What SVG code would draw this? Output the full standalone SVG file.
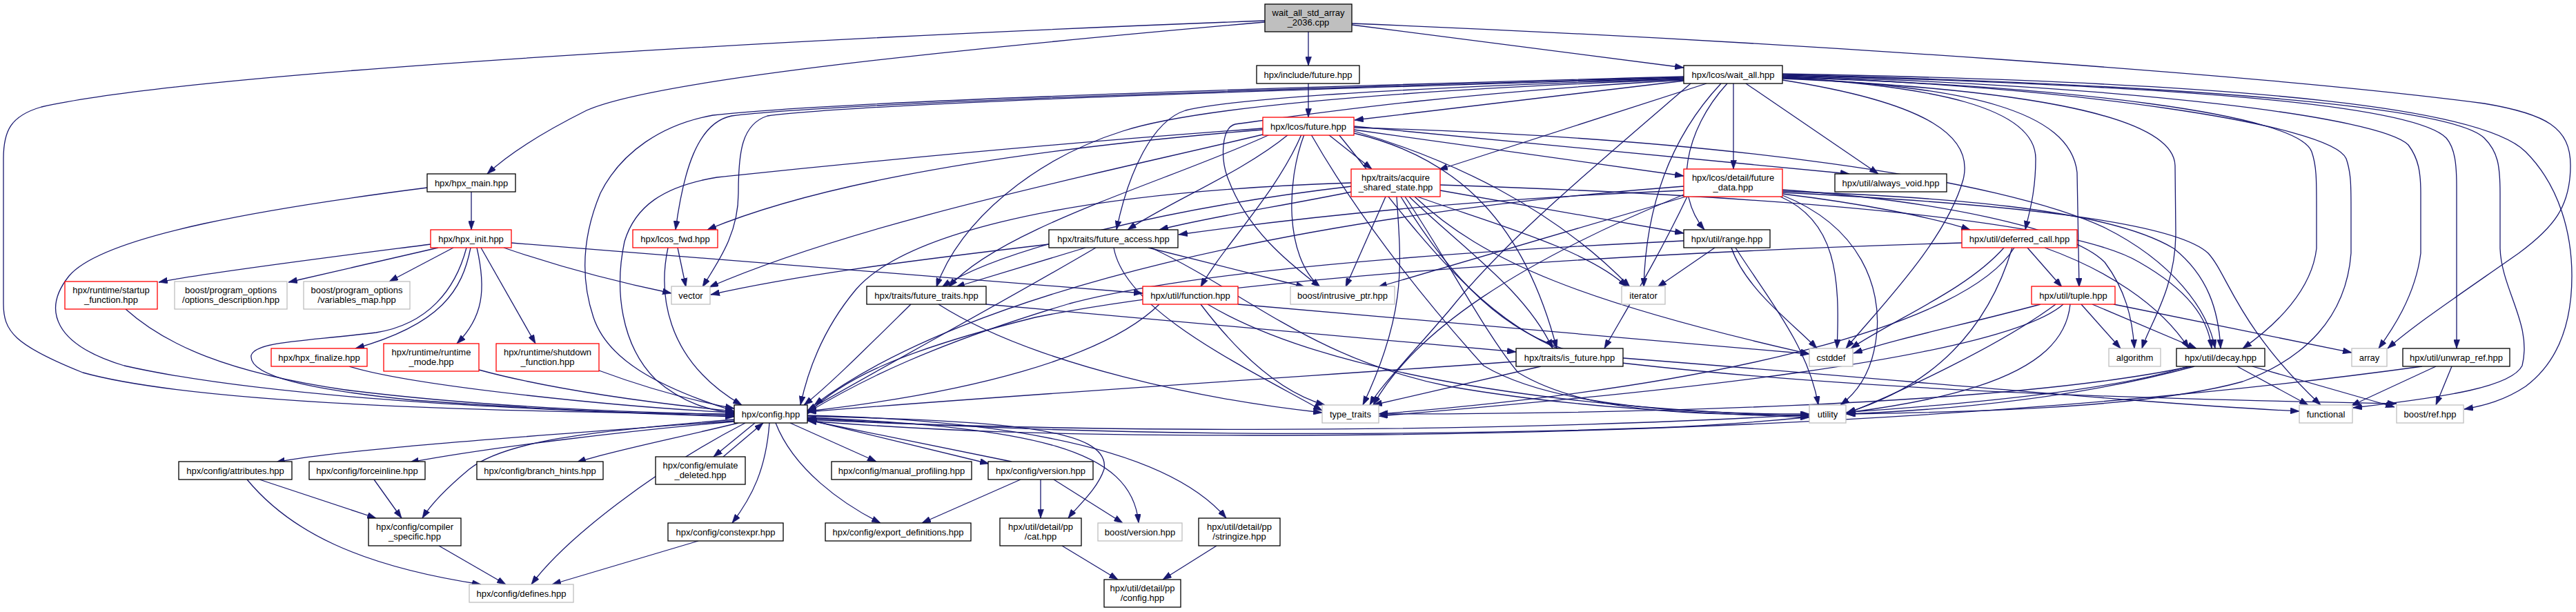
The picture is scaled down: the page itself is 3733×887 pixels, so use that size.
<svg xmlns="http://www.w3.org/2000/svg" width="3733" height="887" viewBox="0 0 3733 887">
<defs>
<style>
.e{fill:none;stroke:#191970;stroke-width:1.3;marker-end:url(#ah)}
.n rect{fill:#fff;stroke:#000;stroke-width:1.3}
.r rect{fill:#fff;stroke:#ff0000;stroke-width:1.3}
.g rect{fill:#fff;stroke:#bfbfbf;stroke-width:1.3}
.s rect{fill:#bfbfbf;stroke:#000;stroke-width:1.3}
text{font-family:"Liberation Sans",Arial,sans-serif;font-size:13px;fill:#000;text-anchor:middle}
</style>
<marker id="ah" viewBox="0 0 10 7" markerWidth="13" markerHeight="9" refX="10" refY="3.5" orient="auto" markerUnits="userSpaceOnUse"><path d="M0,0 L10,3.5 L0,7 z" fill="#191970" stroke="#191970" stroke-width="0.5"/></marker>
</defs>
<rect x="0" y="0" width="3733" height="887" fill="#fff"/>
<g id="connectors">
<path class="e" d="M1896,46 L1896,95"/>
<path class="e" d="M1959,36 L2440,98"/>
<path class="e" d="M1833,32 C1400,70 950,115 850,160 C780,195 735,225 706,252"/>
<path class="e" d="M1833,30 C1300,50 300,100 60,155 C15,168 5,190 5,230 L5,440 C5,480 20,500 120,540 C300,590 800,598 1064,600"/>
<path class="e" d="M1959,34 C2600,60 3300,110 3600,150 C3690,165 3725,185 3725,240 C3725,300 3700,330 3650,367 C3560,430 3500,470 3460,505"/>
<path class="e" d="M1896,121 L1896,170"/>
<path class="e" d="M2441,117 L1963,174"/>
<path class="e" d="M2473,121 L2085,246"/>
<path class="e" d="M2512,121 L2512,245"/>
<path class="e" d="M2530,121 L2722,252"/>
<path class="e" d="M2503,121 C2440,190 2425,280 2470,333"/>
<path class="e" d="M2494,121 C2420,200 2385,300 2382,416"/>
<path class="e" d="M2583,112 C2800,125 2950,155 2950,230 C2950,280 2940,310 2935,333"/>
<path class="e" d="M2583,113 C2850,125 3000,160 3010,250 L3013,416"/>
<path class="e" d="M2583,114 C2950,130 3150,170 3152,240 L3153,340 C3152,420 3115,470 3104,505"/>
<path class="e" d="M2583,112 C3000,125 3330,165 3350,220 C3357,240 3357,260 3357,300 L3357,360 C3350,420 3300,470 3250,505"/>
<path class="e" d="M2583,111 C3000,125 3380,180 3400,230 C3407,250 3407,270 3407,300 L3407,367 C3400,460 3340,520 3250,553 C3100,595 2800,598 2676,600"/>
<path class="e" d="M2583,110 C3100,125 3450,170 3490,210 C3505,230 3508,250 3508,280 L3508,367 C3500,430 3465,480 3447,505"/>
<path class="e" d="M2583,109 C3200,125 3500,155 3545,200 C3558,215 3560,240 3560,270 L3560,505"/>
<path class="e" d="M2583,108 C3250,125 3560,160 3600,200 C3620,220 3623,240 3623,280 L3623,360 C3625,420 3670,470 3655,530 C3640,560 3550,575 3410,591"/>
<path class="e" d="M2583,107 C3300,120 3600,160 3660,220 C3710,270 3727,340 3727,400 C3727,480 3700,530 3660,560 C3630,580 3600,588 3571,593"/>
<path class="e" d="M2440,112 C1800,130 1200,150 1060,168 C1010,178 990,250 979,333"/>
<path class="e" d="M2440,113 C1800,132 1250,150 1112,168 C1075,180 1070,220 1070,280 C1070,340 1040,380 1018,416"/>
<path class="e" d="M2440,111 C1800,128 1200,148 1033,167 C960,180 900,220 870,280 C845,340 840,400 860,460 C880,520 950,560 1064,596"/>
<path class="e" d="M2440,114 C2100,125 1800,140 1718,160 C1670,175 1635,250 1618,333"/>
<path class="e" d="M2440,115 C2100,128 1750,150 1627,190 C1500,230 1390,320 1357,416"/>
<path class="e" d="M2440,116 C2100,135 1900,165 1790,180 C1770,185 1768,230 1780,260 C1810,340 1880,390 1913,416"/>
<path class="e" d="M2583,116 C2800,150 2860,200 2845,260 C2820,350 2720,450 2675,505"/>
<path class="e" d="M2450,121 C2300,250 2180,350 2100,450 C2040,520 2000,560 1985,587"/>
<path class="e" d="M1925,195 L1988,245"/>
<path class="e" d="M1962,188 L2440,255"/>
<path class="e" d="M1962,183 L2680,252"/>
<path class="e" d="M1830,188 C1500,215 1200,260 1025,333"/>
<path class="e" d="M1830,195 C1600,250 1250,320 1028,416"/>
<path class="e" d="M1830,186 C1500,210 1200,240 1039,257 C960,270 920,300 905,350 C890,420 900,500 950,550 C990,585 1030,595 1064,599"/>
<path class="e" d="M1867,195 C1800,250 1700,290 1634,333"/>
<path class="e" d="M1840,195 C1700,260 1450,330 1375,416"/>
<path class="e" d="M1886,195 C1850,280 1770,360 1740,416"/>
<path class="e" d="M1890,195 C1865,260 1860,370 1913,416"/>
<path class="e" d="M1962,190 C2100,230 2250,300 2362,416"/>
<path class="e" d="M1962,193 C2120,230 2210,330 2256,505"/>
<path class="e" d="M1900,195 C1960,300 2050,420 2150,530 C2250,590 2450,600 2622,600"/>
<path class="e" d="M1962,185 C2500,200 2900,260 3050,330 C3150,380 3200,450 3210,505"/>
<path class="e" d="M1940,195 C2050,330 2150,480 2300,520 C2700,570 3200,580 3473,585"/>
<path class="e" d="M1959,278 C1850,300 1750,315 1680,333"/>
<path class="e" d="M1959,270 C1700,300 1450,360 1365,416"/>
<path class="e" d="M2008,285 L1950,416"/>
<path class="e" d="M2054,285 C2150,320 2300,360 2358,416"/>
<path class="e" d="M2087,276 L2440,338"/>
<path class="e" d="M2042,285 C2120,360 2210,420 2250,505"/>
<path class="e" d="M2050,285 C2150,380 2300,440 2622,513"/>
<path class="e" d="M2024,285 C2030,380 2040,450 1975,587"/>
<path class="e" d="M2036,285 C2100,380 2150,480 2200,540 C2300,600 2450,600 2622,602"/>
<path class="e" d="M1958,265 C1500,280 1300,350 1240,420 C1190,480 1170,540 1160,587"/>
<path class="e" d="M2087,268 C2600,285 3000,320 3100,380 C3170,420 3200,460 3205,505"/>
<path class="e" d="M2030,285 C2100,400 2180,490 2300,515 C2700,545 3100,585 3332,596"/>
<path class="e" d="M2440,276 C2100,290 1850,320 1708,340"/>
<path class="e" d="M2443,285 L1997,416"/>
<path class="e" d="M2445,285 C2400,380 2350,460 2325,505"/>
<path class="e" d="M2583,281 C2700,295 2800,315 2855,333"/>
<path class="e" d="M2580,285 C2660,320 2667,400 2662,505"/>
<path class="e" d="M2583,283 C2700,330 2725,420 2720,480 C2715,540 2690,570 2667,587"/>
<path class="e" d="M2583,277 C2800,285 3050,300 3150,360 C3200,400 3215,450 3218,505"/>
<path class="e" d="M2583,279 C2900,295 3150,320 3200,367 C3230,400 3240,470 3363,587"/>
<path class="e" d="M2583,275 C2800,290 3000,330 3050,380 C3080,420 3090,460 3093,505"/>
<path class="e" d="M2440,270 C1900,310 1400,420 1180,587"/>
<path class="e" d="M2440,282 C2200,380 2050,480 1990,587"/>
<path class="e" d="M683,277 L683,333"/>
<path class="e" d="M619,272 C400,300 150,340 100,400 C60,450 80,500 180,530 C400,580 800,595 1064,604"/>
<path class="e" d="M624,354 C500,370 300,395 230,409"/>
<path class="e" d="M635,359 L418,409"/>
<path class="e" d="M657,359 L564,408"/>
<path class="e" d="M682,359 C670,420 640,470 515,505"/>
<path class="e" d="M676,359 C660,420 620,470 545,482 C440,495 370,495 364,515 C360,545 450,565 600,580 C800,595 950,600 1064,603"/>
<path class="e" d="M691,359 C705,420 700,460 662,498"/>
<path class="e" d="M697,359 L776,498"/>
<path class="e" d="M730,359 C820,390 900,410 973,425"/>
<path class="e" d="M741,352 L1656,425"/>
<path class="e" d="M982,359 L994,416"/>
<path class="e" d="M968,359 C955,420 960,520 1075,587"/>
<path class="e" d="M1520,354 C1300,380 1150,400 1030,427"/>
<path class="e" d="M1573,359 L1385,416"/>
<path class="e" d="M1664,359 L1891,416"/>
<path class="e" d="M1668,359 C1800,420 1900,520 2100,560 C2300,595 2500,600 2622,605"/>
<path class="e" d="M1614,359 C1630,450 1800,530 1916,595"/>
<path class="e" d="M1588,359 C1450,440 1300,520 1170,595"/>
<path class="e" d="M1320,441 C1260,500 1200,560 1165,587"/>
<path class="e" d="M1360,441 C1500,530 1750,580 1916,598"/>
<path class="e" d="M1429,441 L2197,510"/>
<path class="e" d="M1680,441 C1600,520 1400,570 1170,596"/>
<path class="e" d="M1740,441 C1800,520 1860,570 1920,587"/>
<path class="e" d="M1750,441 C1900,530 2200,590 2622,603"/>
<path class="e" d="M1794,441 L2622,513"/>
<path class="e" d="M2485,359 L2402,416"/>
<path class="e" d="M2509,359 C2530,420 2600,470 2633,505"/>
<path class="e" d="M2515,359 C2560,430 2620,500 2635,587"/>
<path class="e" d="M2440,349 C2000,370 1700,400 1550,440 C1350,500 1250,550 1170,598"/>
<path class="e" d="M2938,359 L2988,416"/>
<path class="e" d="M2963,359 C3050,390 3130,440 3172,505"/>
<path class="e" d="M2843,352 C2400,365 1800,400 1500,460 C1300,510 1220,550 1170,600"/>
<path class="e" d="M2904,359 C2850,420 2750,460 2682,505"/>
<path class="e" d="M2916,359 C2880,480 2800,560 2676,598"/>
<path class="e" d="M2919,359 C2850,470 2500,560 1998,600"/>
<path class="e" d="M3016,441 L3073,505"/>
<path class="e" d="M3032,441 L3183,505"/>
<path class="e" d="M3063,441 L3408,511"/>
<path class="e" d="M2957,441 C2850,470 2750,490 2686,512"/>
<path class="e" d="M2979,441 C2900,500 2750,570 2675,600"/>
<path class="e" d="M2990,441 C2900,520 2400,570 1998,603"/>
<path class="e" d="M3000,441 C2990,540 2850,600 2400,620 C1800,640 1400,620 1170,606"/>
<path class="e" d="M3242,531 L3345,587"/>
<path class="e" d="M3264,531 L3470,590"/>
<path class="e" d="M3180,531 C3000,580 2800,595 2675,600"/>
<path class="e" d="M3175,531 C2900,590 2300,600 1998,600"/>
<path class="e" d="M3170,531 C2900,620 1800,640 1170,608"/>
<path class="e" d="M3530,531 L3407,588"/>
<path class="e" d="M3553,531 L3530,587"/>
<path class="e" d="M3510,531 C3300,560 2800,620 2000,630 C1500,635 1300,620 1170,610"/>
<path class="e" d="M2197,524 C1900,545 1500,570 1170,597"/>
<path class="e" d="M2233,531 L1990,587"/>
<path class="e" d="M182,448 C240,500 330,540 500,565 C700,590 900,597 1064,601"/>
<path class="e" d="M506,531 C600,560 900,590 1064,598"/>
<path class="e" d="M694,536 C800,565 950,585 1064,596"/>
<path class="e" d="M868,537 C930,560 1000,580 1064,592"/>
<path class="e" d="M1064,610 C800,630 500,650 400,670"/>
<path class="e" d="M1064,611 C900,625 700,650 594,670"/>
<path class="e" d="M1070,613 C980,635 880,655 836,670"/>
<path class="e" d="M1064,608 C850,625 730,640 680,680 C650,705 625,730 612,751"/>
<path class="e" d="M1080,613 C950,680 820,780 770,847"/>
<path class="e" d="M1094,613 L1034,662"/>
<path class="e" d="M1048,662 L1106,613"/>
<path class="e" d="M1145,613 L1270,669"/>
<path class="e" d="M1170,608 L1433,672"/>
<path class="e" d="M1466,669 L1171,609"/>
<path class="e" d="M1115,613 C1110,680 1090,720 1061,758"/>
<path class="e" d="M1124,613 C1150,680 1220,730 1276,758"/>
<path class="e" d="M1170,603 C1450,610 1610,620 1600,680 C1590,710 1560,735 1548,751"/>
<path class="e" d="M1170,605 C1500,620 1640,650 1650,758"/>
<path class="e" d="M1170,602 C1500,610 1700,660 1777,751"/>
<path class="e" d="M376,695 L545,751"/>
<path class="e" d="M358,695 C420,770 520,820 697,847"/>
<path class="e" d="M542,695 L582,751"/>
<path class="e" d="M636,791 L733,847"/>
<path class="e" d="M1012,784 L800,847"/>
<path class="e" d="M1479,695 L1336,758"/>
<path class="e" d="M1508,695 L1508,751"/>
<path class="e" d="M1527,695 L1627,758"/>
<path class="e" d="M1539,791 L1620,840"/>
<path class="e" d="M1763,791 L1685,840"/>
</g>
<g id="node0" class="s"><rect x="1833" y="6" width="126" height="40"/><text x="1896" y="22.5">wait_all_std_array</text><text x="1896" y="37">_2036.cpp</text></g>
<g id="node1" class="n"><rect x="1821" y="95" width="149" height="26"/><text x="1895.5" y="112.5">hpx/include/future.hpp</text></g>
<g id="node2" class="n"><rect x="2440" y="95" width="143" height="26"/><text x="2511.5" y="112.5">hpx/lcos/wait_all.hpp</text></g>
<g id="node3" class="r"><rect x="1830" y="170" width="132" height="26"/><text x="1896" y="187.5">hpx/lcos/future.hpp</text></g>
<g id="node4" class="n"><rect x="619" y="252" width="128" height="26"/><text x="683" y="269.5">hpx/hpx_main.hpp</text></g>
<g id="node5" class="r"><rect x="1958" y="245" width="129" height="40"/><text x="2022.5" y="261.5">hpx/traits/acquire</text><text x="2022.5" y="276">_shared_state.hpp</text></g>
<g id="node6" class="r"><rect x="2440" y="245" width="143" height="40"/><text x="2511.5" y="261.5">hpx/lcos/detail/future</text><text x="2511.5" y="276">_data.hpp</text></g>
<g id="node7" class="n"><rect x="2659" y="252" width="162" height="26"/><text x="2740" y="269.5">hpx/util/always_void.hpp</text></g>
<g id="node8" class="r"><rect x="624" y="333" width="117" height="26"/><text x="682.5" y="350.5">hpx/hpx_init.hpp</text></g>
<g id="node9" class="r"><rect x="917" y="333" width="123" height="26"/><text x="978.5" y="350.5">hpx/lcos_fwd.hpp</text></g>
<g id="node10" class="n"><rect x="1520" y="333" width="187" height="26"/><text x="1613.5" y="350.5">hpx/traits/future_access.hpp</text></g>
<g id="node11" class="n"><rect x="2440" y="333" width="125" height="26"/><text x="2502.5" y="350.5">hpx/util/range.hpp</text></g>
<g id="node12" class="r"><rect x="2843" y="333" width="167" height="26"/><text x="2926.5" y="350.5">hpx/util/deferred_call.hpp</text></g>
<g id="node13" class="r"><rect x="94" y="408" width="134" height="40"/><text x="161" y="424.5">hpx/runtime/startup</text><text x="161" y="439">_function.hpp</text></g>
<g id="node14" class="g"><rect x="253" y="408" width="163" height="40"/><text x="334.5" y="424.5">boost/program_options</text><text x="334.5" y="439">/options_description.hpp</text></g>
<g id="node15" class="g"><rect x="440" y="408" width="154" height="40"/><text x="517" y="424.5">boost/program_options</text><text x="517" y="439">/variables_map.hpp</text></g>
<g id="node16" class="g"><rect x="973" y="415" width="56" height="26"/><text x="1001" y="432.5">vector</text></g>
<g id="node17" class="n"><rect x="1256" y="415" width="173" height="26"/><text x="1342.5" y="432.5">hpx/traits/future_traits.hpp</text></g>
<g id="node18" class="r"><rect x="1656" y="415" width="138" height="26"/><text x="1725" y="432.5">hpx/util/function.hpp</text></g>
<g id="node19" class="g"><rect x="1870" y="415" width="151" height="26"/><text x="1945.5" y="432.5">boost/intrusive_ptr.hpp</text></g>
<g id="node20" class="g"><rect x="2350" y="415" width="63" height="26"/><text x="2381.5" y="432.5">iterator</text></g>
<g id="node21" class="r"><rect x="2944" y="415" width="121" height="26"/><text x="3004.5" y="432.5">hpx/util/tuple.hpp</text></g>
<g id="node22" class="r"><rect x="393" y="505" width="139" height="26"/><text x="462.5" y="522.5">hpx/hpx_finalize.hpp</text></g>
<g id="node23" class="r"><rect x="556" y="498" width="138" height="40"/><text x="625" y="514.5">hpx/runtime/runtime</text><text x="625" y="529">_mode.hpp</text></g>
<g id="node24" class="r"><rect x="719" y="498" width="149" height="40"/><text x="793.5" y="514.5">hpx/runtime/shutdown</text><text x="793.5" y="529">_function.hpp</text></g>
<g id="node25" class="n"><rect x="2197" y="505" width="155" height="26"/><text x="2274.5" y="522.5">hpx/traits/is_future.hpp</text></g>
<g id="node26" class="g"><rect x="2622" y="505" width="63" height="26"/><text x="2653.5" y="522.5">cstddef</text></g>
<g id="node27" class="g"><rect x="3056" y="505" width="75" height="26"/><text x="3093.5" y="522.5">algorithm</text></g>
<g id="node28" class="n"><rect x="3154" y="505" width="128" height="26"/><text x="3218" y="522.5">hpx/util/decay.hpp</text></g>
<g id="node29" class="g"><rect x="3408" y="505" width="51" height="26"/><text x="3433.5" y="522.5">array</text></g>
<g id="node30" class="n"><rect x="3482" y="505" width="155" height="26"/><text x="3559.5" y="522.5">hpx/util/unwrap_ref.hpp</text></g>
<g id="node31" class="n"><rect x="1064" y="587" width="106" height="26"/><text x="1117" y="604.5">hpx/config.hpp</text></g>
<g id="node32" class="g"><rect x="1916" y="587" width="82" height="26"/><text x="1957" y="604.5">type_traits</text></g>
<g id="node33" class="g"><rect x="2622" y="587" width="53" height="26"/><text x="2648.5" y="604.5">utility</text></g>
<g id="node34" class="g"><rect x="3332" y="587" width="77" height="26"/><text x="3370.5" y="604.5">functional</text></g>
<g id="node35" class="g"><rect x="3473" y="587" width="97" height="26"/><text x="3521.5" y="604.5">boost/ref.hpp</text></g>
<g id="node36" class="n"><rect x="259" y="669" width="164" height="26"/><text x="341" y="686.5">hpx/config/attributes.hpp</text></g>
<g id="node37" class="n"><rect x="448" y="669" width="168" height="26"/><text x="532" y="686.5">hpx/config/forceinline.hpp</text></g>
<g id="node38" class="n"><rect x="691" y="669" width="183" height="26"/><text x="782.5" y="686.5">hpx/config/branch_hints.hpp</text></g>
<g id="node39" class="n"><rect x="950" y="662" width="130" height="40"/><text x="1015" y="678.5">hpx/config/emulate</text><text x="1015" y="693">_deleted.hpp</text></g>
<g id="node40" class="n"><rect x="1205" y="669" width="203" height="26"/><text x="1306.5" y="686.5">hpx/config/manual_profiling.hpp</text></g>
<g id="node41" class="n"><rect x="1432" y="669" width="152" height="26"/><text x="1508" y="686.5">hpx/config/version.hpp</text></g>
<g id="node42" class="n"><rect x="534" y="751" width="134" height="40"/><text x="601" y="767.5">hpx/config/compiler</text><text x="601" y="782">_specific.hpp</text></g>
<g id="node43" class="n"><rect x="968" y="758" width="167" height="26"/><text x="1051.5" y="775.5">hpx/config/constexpr.hpp</text></g>
<g id="node44" class="n"><rect x="1196" y="758" width="211" height="26"/><text x="1301.5" y="775.5">hpx/config/export_definitions.hpp</text></g>
<g id="node45" class="n"><rect x="1449" y="751" width="118" height="40"/><text x="1508" y="767.5">hpx/util/detail/pp</text><text x="1508" y="782">/cat.hpp</text></g>
<g id="node46" class="g"><rect x="1591" y="758" width="122" height="26"/><text x="1652" y="775.5">boost/version.hpp</text></g>
<g id="node47" class="n"><rect x="1737" y="751" width="118" height="40"/><text x="1796" y="767.5">hpx/util/detail/pp</text><text x="1796" y="782">/stringize.hpp</text></g>
<g id="node48" class="g"><rect x="680" y="847" width="151" height="26"/><text x="755.5" y="864.5">hpx/config/defines.hpp</text></g>
<g id="node49" class="n"><rect x="1600" y="840" width="111" height="40"/><text x="1655.5" y="856.5">hpx/util/detail/pp</text><text x="1655.5" y="871">/config.hpp</text></g>
</svg>
